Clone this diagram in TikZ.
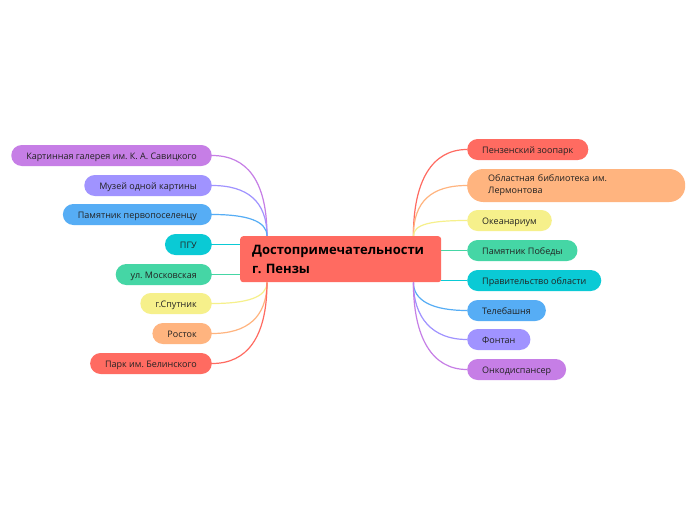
\documentclass[tikz,border=0pt]{standalone}
\usepackage{fontspec}
\setmainfont{Open Sans}
\usetikzlibrary{backgrounds}
\frenchspacing
\definecolor{mmred}{HTML}{FF6B61}
\definecolor{mmorange}{HTML}{FFB47F}
\definecolor{mmyellow}{HTML}{F6F08B}
\definecolor{mmgreen}{HTML}{45D6A5}
\definecolor{mmcyan}{HTML}{0ACAD5}
\definecolor{mmblue}{HTML}{56ADF5}
\definecolor{mmlav}{HTML}{A093FF}
\definecolor{mmpurple}{HTML}{C67EE6}
\definecolor{mmtext}{HTML}{222222}
\tikzset{
	pill/.style={fill=#1,rounded corners=10.5pt,minimum height=21pt,inner xsep=15pt,inner ysep=0pt,
		text=mmtext,font=\fontsize{9}{12}\selectfont},
	topic/.style={pill=#1,text height=7.8pt,text depth=0pt},
	link/.style={draw=#1,line width=1.2pt}
}
\begin{document}
\begin{tikzpicture}[x=1pt,y=-1pt]
	\useasboundingbox (0,0) rectangle (696,520);
	% central topic
	\node[fill=mmred,rounded corners=3pt,anchor=north west,minimum height=46pt,text width=177pt,inner xsep=12pt,
		align=left,text=black,font=\bfseries\fontsize{13}{19}\selectfont] (root) at (240,236)
		{Достопримечательности\\г. Пензы};
	\coordinate (lt) at ([xshift=27pt]root.north west);
	\coordinate (lb) at ([xshift=27pt]root.south west);
	\coordinate (rt) at ([xshift=-28pt]root.north east);
	\coordinate (rb) at ([xshift=-28pt]root.south east);
	% left side
	\node[topic=mmpurple,anchor=east] (galery) at (212,155.5) {Картинная галерея им. К. А. Савицкого};
	\node[topic=mmlav,anchor=east] (muzey) at (212,185.5) {Музей одной картины};
	\node[topic=mmblue,anchor=east] (pervo) at (212,214.5) {Памятник первопоселенцу};
	\node[topic=mmcyan,anchor=east] (pgu) at (212,244.5) {ПГУ};
	\node[topic=mmgreen,anchor=east] (moskov) at (212,274.5) {ул. Московская};
	\node[topic=mmyellow,anchor=east] (sputnik) at (212,303.5) {г.Спутник};
	\node[topic=mmorange,anchor=east] (rostok) at (212,333.5) {Росток};
	\node[topic=mmred,anchor=east] (park) at (212,363.5) {Парк им. Белинского};
	% right side
	\node[topic=mmred,anchor=west] (zoo) at (467,149.5) {Пензенский зоопарк};
	\node[pill=mmorange,anchor=west,text width=176pt,inner xsep=21pt,minimum height=33pt,rounded corners=16pt,
		align=left] (lib) at (467,185.5) {Областная библиотека им.\\Лермонтова};
	\node[topic=mmyellow,anchor=west] (ocean) at (467,220.5) {Океанариум};
	\node[topic=mmgreen,anchor=west] (pobeda) at (467,250.5) {Памятник Победы};
	\node[topic=mmcyan,anchor=west] (prav) at (467,280.5) {Правительство области};
	\node[topic=mmblue,anchor=west] (tele) at (467,310.5) {Телебашня};
	\node[topic=mmlav,anchor=west] (fontan) at (467,339.5) {Фонтан};
	\node[topic=mmpurple,anchor=west] (onko) at (467,369.5) {Онкодиспансер};
	% connectors
	\begin{scope}[on background layer]
		\fill[white] (0,0) rectangle (696,520);
		\draw[link=mmpurple] (galery.east) .. controls +(35,0) and +(0,-55) .. (lt);
		\draw[link=mmlav] (muzey.east) .. controls +(35,0) and +(0,-35) .. (lt);
		\draw[link=mmblue] (pervo.east) .. controls +(35,0) and +(0,-15) .. (lt);
		\draw[link=mmcyan] (pgu.east) -- (pgu.east -| root.west);
		\draw[link=mmgreen] (moskov.east) -- (moskov.east -| root.west);
		\draw[link=mmyellow] (sputnik.east) .. controls +(35,0) and +(0,15) .. (lb);
		\draw[link=mmorange] (rostok.east) .. controls +(35,0) and +(0,35) .. (lb);
		\draw[link=mmred] (park.east) .. controls +(35,0) and +(0,55) .. (lb);
		\draw[link=mmred] (zoo.west) .. controls +(-35,0) and +(0,-55) .. (rt);
		\draw[link=mmorange] (lib.west) .. controls +(-35,0) and +(0,-35) .. (rt);
		\draw[link=mmyellow] (ocean.west) .. controls +(-35,0) and +(0,-12) .. (rt);
		\draw[link=mmgreen] (pobeda.west) -- (pobeda.west -| root.east);
		\draw[link=mmcyan] (prav.west) -- (prav.west -| root.east);
		\draw[link=mmblue] (tele.west) .. controls +(-35,0) and +(0,18) .. (rb);
		\draw[link=mmlav] (fontan.west) .. controls +(-35,0) and +(0,35) .. (rb);
		\draw[link=mmpurple] (onko.west) .. controls +(-35,0) and +(0,55) .. (rb);
	\end{scope}
\end{tikzpicture}
\end{document}
